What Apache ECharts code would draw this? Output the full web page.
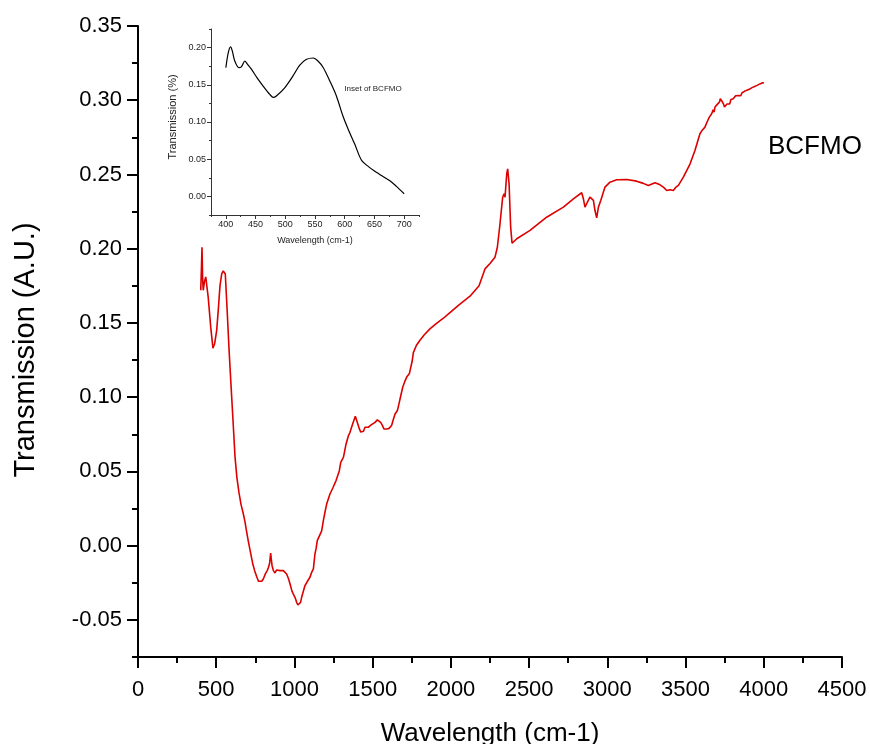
<!DOCTYPE html>
<html>
<head>
<meta charset="utf-8">
<script src="https://cdn.jsdelivr.net/npm/echarts@6/dist/echarts.min.js"></script>
<style>
  html, body { margin: 0; padding: 0; background: #fff; }
  #chart { width: 870px; height: 744px; }
</style>
</head>
<body>
<div id="chart"></div>
<script>
// FTIR transmission spectrum of BCFMO (wavenumber in cm-1)
const mainWave = [
  401, 405, 409, 413, 417, 425, 433, 441, 449, 465, 479, 490, 503, 514, 524, 535, 545, 558, 571, 582,
  593, 607, 620, 632, 645, 658, 672, 684, 695, 705, 720, 733, 746, 759, 770, 780, 791, 801, 814, 826,
  834, 841, 848, 853, 857, 866, 876, 886, 897, 908, 918, 929, 940, 950, 961, 972, 983, 993, 1004, 1014,
  1022, 1029, 1039, 1046, 1056, 1067, 1083, 1099, 1110, 1121, 1131, 1138, 1146, 1157, 1174, 1185, 1196, 1206, 1227, 1246,
  1266, 1287, 1296, 1305, 1313, 1330, 1345, 1355, 1372, 1389, 1395, 1402, 1415, 1424, 1432, 1441, 1451, 1462, 1472, 1486,
  1500, 1515, 1530, 1541, 1551, 1562, 1572, 1581, 1590, 1605, 1621, 1632, 1643, 1658, 1667, 1675, 1692, 1707, 1720, 1735,
  1745, 1752, 1760, 1780, 1800, 1830, 1866, 1900, 1950, 1994, 2050, 2122, 2180, 2218, 2250, 2282, 2297, 2314, 2331, 2340,
  2346, 2357, 2363, 2372, 2382, 2391, 2421, 2506, 2612, 2719, 2783, 2836, 2847, 2857, 2868, 2889, 2911, 2921, 2932, 2943,
  2958, 2985, 3017, 3060, 3124, 3187, 3230, 3262, 3305, 3337, 3358, 3380, 3401, 3422, 3439, 3454, 3486, 3529, 3560, 3592,
  3608, 3624, 3636, 3645, 3652, 3660, 3667, 3676, 3682, 3688, 3697, 3703, 3709, 3718, 3722, 3727, 3732, 3737, 3742, 3749,
  3754, 3759, 3765, 3774, 3782, 3790, 3797, 3805, 3813, 3820, 3828, 3837, 3846, 3853, 3861, 3869, 3877, 3885, 3893, 3901,
  3910, 3918, 3925, 3933, 3941, 3949, 3957, 3965, 3975, 3985, 3993, 4001
];
const mainTrans = [
  0.172, 0.185, 0.201, 0.180, 0.172, 0.178, 0.181, 0.174, 0.167, 0.147, 0.133, 0.136, 0.145, 0.160, 0.175, 0.183, 0.185, 0.183, 0.156, 0.132,
  0.111, 0.085, 0.060, 0.046, 0.036, 0.028, 0.022, 0.016, 0.009, 0.003, -0.005, -0.012, -0.017, -0.021, -0.024, -0.025, -0.024, -0.0225, -0.019, -0.0168,
  -0.0146, -0.012, -0.005, -0.010, -0.0135, -0.017, -0.0184, -0.0164, -0.0168, -0.0168, -0.0165, -0.0168, -0.018, -0.0191, -0.022, -0.0258, -0.0303, -0.0326, -0.035, -0.0382,
  -0.040, -0.0404, -0.0382, -0.0348, -0.031, -0.027, -0.024, -0.0213, -0.018, -0.0157, -0.0056, -0.0022, 0.0034, 0.0045, 0.010, 0.017, 0.023, 0.028, 0.0348, 0.039,
  0.0438, 0.0505, 0.0561, 0.058, 0.0595, 0.0685, 0.074, 0.0763, 0.082, 0.0871, 0.086, 0.083, 0.0786, 0.0765, 0.0759, 0.077, 0.0797, 0.079, 0.0797, 0.081,
  0.082, 0.083, 0.0847, 0.0838, 0.083, 0.081, 0.0786, 0.0782, 0.0786, 0.079, 0.0809, 0.085, 0.0887, 0.091, 0.095, 0.0988, 0.1067, 0.111, 0.114, 0.116,
  0.117, 0.124, 0.130, 0.135, 0.138, 0.142, 0.146, 0.149, 0.153, 0.157, 0.162, 0.168, 0.175, 0.1864, 0.190, 0.1943, 0.201, 0.2168, 0.2347, 0.237,
  0.2347, 0.2505, 0.2538, 0.2437, 0.2145, 0.2037, 0.2067, 0.2123, 0.2212, 0.228, 0.2336, 0.2377, 0.2336, 0.228, 0.2303, 0.2347, 0.2325, 0.2257, 0.2208, 0.228,
  0.2325, 0.2415, 0.2448, 0.2464, 0.2466, 0.2455, 0.244, 0.2426, 0.2444, 0.243, 0.2415, 0.2392, 0.2397, 0.2392, 0.2415, 0.2426, 0.2482, 0.2572, 0.2662, 0.2774,
  0.280, 0.2819, 0.2850, 0.2838, 0.2886, 0.2875, 0.2909, 0.2935, 0.2920, 0.2954, 0.2945, 0.2972, 0.2965, 0.2990, 0.3010, 0.3010, 0.2995, 0.2985, 0.2976, 0.2955,
  0.2960, 0.2943, 0.2975, 0.2987, 0.2975, 0.3005, 0.2995, 0.3010, 0.3000, 0.3030, 0.3018, 0.3032, 0.3045, 0.3030, 0.3050, 0.3043, 0.3060, 0.3048, 0.3068, 0.3066,
  0.3075, 0.3070, 0.3085, 0.3088, 0.3092, 0.3098, 0.3100, 0.3106, 0.3110, 0.3113, 0.3117, 0.3118
];

// Low-wavenumber detail (400-700 cm-1)
const insetWave = [
  400, 404, 408, 411, 415, 422, 426, 432, 436, 443, 452, 463, 474, 480, 485, 499, 513, 524, 535, 547,
  555, 564, 575, 586, 597, 606, 617, 628, 640, 654, 662, 676, 687, 700
];
const insetTrans = [
  0.173, 0.193, 0.201, 0.195, 0.182, 0.173, 0.174, 0.182, 0.178, 0.171, 0.160, 0.148, 0.137, 0.133, 0.135, 0.146, 0.162, 0.176, 0.184, 0.186,
  0.182, 0.173, 0.155, 0.135, 0.108, 0.090, 0.070, 0.049, 0.040, 0.032, 0.028, 0.021, 0.0135, 0.0036
];

// Axis tick values
const mainYMajor = [-0.05, 0, 0.05, 0.10, 0.15, 0.20, 0.25, 0.30, 0.35];
const mainYMinor = [-0.075, -0.025, 0.025, 0.075, 0.125, 0.175, 0.225, 0.275, 0.325];
const insetXMajor = [400, 450, 500, 550, 600, 650, 700];
const insetXMinor = [375, 425, 475, 525, 575, 625, 675, 725];
const insetYMajor = [0, 0.05, 0.10, 0.15, 0.20];
const insetYMinor = [-0.025, 0.025, 0.075, 0.125, 0.175, 0.225];

const FONT = "'Liberation Sans', Arial, sans-serif";
const zip = (xs, ys) => xs.map((x, i) => [x, ys[i]]);
const plain = v => String(Math.round(v));

const chart = echarts.init(document.getElementById('chart'), null, { renderer: 'canvas' });

const mainLine = { show: true, onZero: false, lineStyle: { color: '#000', width: 2 } };
const insetLine = { show: true, onZero: false, lineStyle: { color: '#333', width: 1 } };

chart.setOption({
  animation: false,
  backgroundColor: '#fff',
  grid: [
    { left: 138, right: 28, top: 26, bottom: 87, outerBoundsMode: 'none', containLabel: false },
    { left: 211, top: 29, width: 208, height: 186, outerBoundsMode: 'none', containLabel: false }
  ],
  xAxis: [
    {
      type: 'value', gridIndex: 0, min: 0, max: 4500, interval: 500,
      axisLine: mainLine,
      axisTick: { show: true, length: 11, lineStyle: { color: '#000', width: 2 } },
      minorTick: { show: true, splitNumber: 2, length: 6, lineStyle: { color: '#000', width: 2 } },
      splitLine: { show: false },
      axisLabel: { margin: 22, fontSize: 22, color: '#000', fontFamily: FONT, formatter: plain },
      name: 'Wavelength (cm-1)', nameLocation: 'middle', nameGap: 64,
      nameTextStyle: { fontSize: 26, color: '#000', fontFamily: FONT }
    },
    {
      type: 'value', gridIndex: 1, min: 375, max: 725, position: 'bottom',
      axisLine: insetLine,
      axisTick: { show: true, length: 4, customValues: insetXMajor, lineStyle: { color: '#333', width: 1 } },
      splitLine: { show: false },
      axisLabel: { margin: 5, fontSize: 9, color: '#222', fontFamily: FONT, customValues: insetXMajor, formatter: plain },
      name: 'Wavelength (cm-1)', nameLocation: 'middle', nameGap: 21,
      nameTextStyle: { fontSize: 9, color: '#222', fontFamily: FONT }
    },
    {
      type: 'value', gridIndex: 1, min: 375, max: 725, position: 'bottom',
      axisLine: { show: false, onZero: false },
      axisTick: { show: true, length: 2, customValues: insetXMinor, lineStyle: { color: '#333', width: 1 } },
      splitLine: { show: false },
      axisLabel: { show: false }
    }
  ],
  yAxis: [
    {
      type: 'value', gridIndex: 0, min: -0.075, max: 0.35,
      axisLine: mainLine,
      axisTick: { show: true, length: 11, customValues: mainYMajor, lineStyle: { color: '#000', width: 2 } },
      splitLine: { show: false },
      axisLabel: {
        margin: 16, fontSize: 22, color: '#000', fontFamily: FONT,
        customValues: mainYMajor, formatter: v => v.toFixed(2)
      }
    },
    {
      type: 'value', gridIndex: 0, min: -0.075, max: 0.35, position: 'left',
      axisLine: { show: false, onZero: false },
      axisTick: { show: true, length: 6, customValues: mainYMinor, lineStyle: { color: '#000', width: 2 } },
      splitLine: { show: false },
      axisLabel: { show: false }
    },
    {
      type: 'value', gridIndex: 1, min: -0.025, max: 0.225, position: 'left',
      axisLine: insetLine,
      axisTick: { show: true, length: 4, customValues: insetYMajor, lineStyle: { color: '#333', width: 1 } },
      splitLine: { show: false },
      axisLabel: {
        margin: 5, fontSize: 9, color: '#222', fontFamily: FONT,
        customValues: insetYMajor, formatter: v => v.toFixed(2)
      }
    },
    {
      type: 'value', gridIndex: 1, min: -0.025, max: 0.225, position: 'left',
      axisLine: { show: false, onZero: false },
      axisTick: { show: true, length: 2, customValues: insetYMinor, lineStyle: { color: '#333', width: 1 } },
      splitLine: { show: false },
      axisLabel: { show: false }
    }
  ],
  graphic: [
    {
      type: 'text', x: 26, y: 350, rotation: Math.PI / 2,
      style: {
        text: 'Transmission (A.U.)', font: `29px ${FONT}`, fill: '#000',
        align: 'center', verticalAlign: 'middle'
      }
    },
    {
      type: 'text', x: 173, y: 117, rotation: Math.PI / 2,
      style: {
        text: 'Transmission (%)', font: `11px ${FONT}`, fill: '#222',
        align: 'center', verticalAlign: 'middle'
      }
    },
    {
      type: 'text', x: 373, y: 89,
      style: {
        text: 'Inset of BCFMO', font: `8px ${FONT}`, fill: '#222',
        align: 'center', verticalAlign: 'middle'
      }
    },
    {
      type: 'text', x: 768, y: 147,
      style: {
        text: 'BCFMO', font: `26px ${FONT}`, fill: '#000',
        align: 'left', verticalAlign: 'middle'
      }
    }
  ],
  series: [
    {
      type: 'line', xAxisIndex: 0, yAxisIndex: 0,
      data: zip(mainWave, mainTrans),
      showSymbol: false, symbol: 'none',
      lineStyle: { color: '#dc0000', width: 1.6 }
    },
    {
      type: 'line', xAxisIndex: 1, yAxisIndex: 2,
      data: zip(insetWave, insetTrans),
      showSymbol: false, symbol: 'none', smooth: 0.3,
      lineStyle: { color: '#000', width: 1.2 }
    }
  ]
});
</script>
</body>
</html>
